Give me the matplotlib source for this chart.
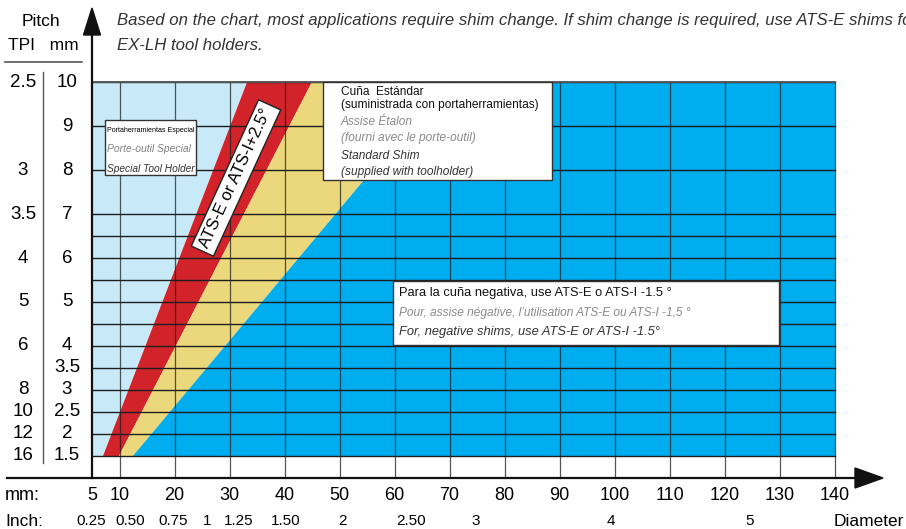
import numpy as np
import matplotlib.pyplot as plt
from matplotlib.patches import Polygon, Rectangle

# ---- data ----
pitch_mm = [10, 9, 8, 7, 6, 5, 4, 3.5, 3, 2.5, 2, 1.5]
pitch_tpi = ['2.5', '3', '3.5', '4', '5', '6', '8', '10', '12', '16']
tpi_at_mm = [10, 8, 7, 6, 5, 4, 3, 2.5, 2, 1.5]
grid_pitch = [1.5, 2, 2.5, 3, 3.5, 4, 4.5, 5, 5.5, 6, 6.5, 7, 8, 9, 10]

diam_mm = [5, 10, 20, 30, 40, 50, 60, 70, 80, 90, 100, 110, 120, 130, 140]
inch_labels = ['0.25', '0.50', '0.75', '1', '1.25', '1.50', '2', '2.50', '3', '4', '5']
inch_at_mm = [4.8, 11.9, 19.7, 25.9, 31.7, 40.3, 50.6, 63.0, 74.8, 99.4, 124.6]

# band borders: diameter (mm) at pitch 1.5 and at pitch 10
band_pitch = [1.5, 10]
special_edge = [7.0, 33.2]     # special tool holder | ATS +2.5
shim_edge = [9.9, 45.0]        # ATS +2.5 | standard shim
standard_edge = [12.5, 69.4]   # standard shim | negative shims
diam_max = 140

c_light = '#c8eaf8'
c_red = '#d2232a'
c_yellow = '#ecd87c'
c_blue = '#00adee'
c_grid = '#1e1e1e'

FONT = ['Liberation Sans', 'DejaVu Sans']

W, H = 906, 529
fig = plt.figure(figsize=(W / 100, H / 100), dpi=100)
ax = fig.add_axes([0, 0, 1, 1])
# 5.5 px per mm of diameter, 44 px per mm of pitch
ax.set_xlim(5 - 92 / 5.5, 5 + (W - 92) / 5.5)
ax.set_ylim(10 - (H - 82) / 44, 10 + 82 / 44)
ax.axis('off')


def fp(x, y):
    # pixel position (from top-left) -> figure fraction
    return x / W, 1 - y / H


x0 = diam_mm[0]
p0, p1 = band_pitch
regions = [
    ([x0, special_edge[0], special_edge[1], x0], c_light),
    ([special_edge[0], shim_edge[0], shim_edge[1], special_edge[1]], c_red),
    ([shim_edge[0], standard_edge[0], standard_edge[1], shim_edge[1]], c_yellow),
    ([standard_edge[0], diam_max, diam_max, standard_edge[1]], c_blue),
]
for xs, col in regions:
    ax.add_patch(Polygon(list(zip(xs, [p0, p0, p1, p1])), closed=True,
                         facecolor=col, edgecolor='none', zorder=1))

# grid
for g in grid_pitch:
    ax.plot([x0, diam_max], [g, g], color=c_grid, lw=1.0, zorder=2)
for d in diam_mm[1:]:
    ax.plot([d, d], [1.0, p1], color=c_grid, lw=0.9, alpha=0.75, zorder=2)
ax.plot([x0, diam_max], [p1, p1], color='#555555', lw=1.3, zorder=2)

# axes with arrow heads
ax.plot([5 - 85 / 5.5, 5 + 770 / 5.5], [1.0, 1.0], color='#111111', lw=1.6, zorder=4)
ax.add_patch(Polygon([(5 + 763 / 5.5, 1.0 + 10 / 44), (5 + 791 / 5.5, 1.0),
                      (5 + 763 / 5.5, 1.0 - 10 / 44)], closed=True,
                     color='#111111', zorder=4))
ax.plot([x0, x0], [1.0, 10 + 50 / 44], color='#111111', lw=1.6, zorder=4)
ax.add_patch(Polygon([(x0 - 8.5 / 5.5, 10 + 47 / 44), (x0, 10 + 74 / 44),
                      (x0 + 8.5 / 5.5, 10 + 47 / 44)], closed=True,
                     color='#111111', zorder=4))

# left pitch scale
fig.text(*fp(41, 21), 'Pitch', fontsize=12.5, family=FONT, ha='center', va='center')
fig.text(*fp(43, 45), 'TPI   mm', fontsize=12.5, family=FONT, ha='center', va='center')
fig.add_artist(plt.Line2D([5 / W, 82 / W], [1 - 62 / H, 1 - 62 / H],
                          color='#555555', lw=1.2))
fig.add_artist(plt.Line2D([43 / W, 43 / W], [1 - 72 / H, 1 - 463 / H],
                          color='#555555', lw=1.0))
for v in pitch_mm:
    ax.text(5 - 25 / 5.5, v, '%g' % v, fontsize=13.5, family=FONT, ha='center', va='center')
for lab, v in zip(pitch_tpi, tpi_at_mm):
    ax.text(5 - 69 / 5.5, v, lab, fontsize=13.5, family=FONT, ha='center', va='center')

# bottom scales
fig.text(*fp(5, 495), 'mm:', fontsize=13, family=FONT, ha='left', va='center')
for d in diam_mm:
    ax.text(d, 1.0 - 17 / 44, str(d), fontsize=13, family=FONT, ha='center', va='center')
fig.text(*fp(5, 521), 'Inch:', fontsize=12.5, family=FONT, ha='left', va='center')
for lab, d in zip(inch_labels, inch_at_mm):
    ax.text(d, 1.0 - 43 / 44, lab, fontsize=11, family=FONT, ha='center', va='center')
fig.text(*fp(834, 521), 'Diameter', fontsize=12.5, family=FONT, ha='left', va='center')

# top notes
fig.text(*fp(117, 20), 'Based on the chart, most applications require shim change. '
         'If shim change is required, use ATS-E shims for', fontsize=12.1,
         family=FONT, style='italic', color='#333333', ha='left', va='center')
fig.text(*fp(117, 45), 'EX-LH tool holders.', fontsize=12.1, family=FONT,
         style='italic', color='#333333', ha='left', va='center')


def box(x1, y1, x2, y2):
    fig.add_artist(Rectangle((x1 / W, 1 - y2 / H), (x2 - x1) / W, (y2 - y1) / H,
                             facecolor='white', edgecolor='#333333', lw=1.0, zorder=5))


# special tool holder box
box(105, 120, 196, 175)
fig.text(*fp(107, 130), 'Portaherramientas Especial', fontsize=5.1, family=FONT,
         ha='left', va='center', zorder=6)
fig.text(*fp(107, 149), 'Porte-outil Special', fontsize=7.5, family=FONT,
         style='italic', color='#808080', ha='left', va='center', zorder=6)
fig.text(*fp(107, 169), 'Special Tool Holder', fontsize=7.3, family=FONT,
         style='italic', color='#333333', ha='left', va='center', zorder=6)

# standard shim box
box(323, 82, 552, 180)
std_lines = [('Cuña  Estándar', 'normal', '#111111', 92),
             ('(suministrada con portaherramientas)', 'normal', '#111111', 105),
             ('Assise Étalon', 'italic', '#8a8a8a', 122),
             ('(fourni avec le porte-outil)', 'italic', '#8a8a8a', 138),
             ('Standard Shim', 'italic', '#333333', 156),
             ('(supplied with toolholder)', 'italic', '#333333', 172)]
for txt, st, col, y in std_lines:
    fig.text(*fp(341, y), txt, fontsize=8.6, family=FONT, style=st, color=col,
             ha='left', va='center', zorder=6)

# negative shim box
box(393, 281, 779, 345)
fig.text(*fp(399, 293), 'Para la cuña negativa, use ATS-E o ATS-I -1.5 °', fontsize=9.3,
         family=FONT, color='#111111', ha='left', va='center', zorder=6)
fig.text(*fp(399, 313), 'Pour, assise négative, l’utilisation ATS-E ou ATS-I -1,5 °',
         fontsize=8.6, family=FONT, style='italic', color='#8a8a8a',
         ha='left', va='center', zorder=6)
fig.text(*fp(399, 332), 'For, negative shims, use ATS-E or ATS-I -1.5°', fontsize=9.3,
         family=FONT, style='italic', color='#333333', ha='left', va='center', zorder=6)

# rotated label in the red band
ax.text(5 + 144 / 5.5, 10 - 96 / 44, 'ATS-E or ATS-I+2.5°', fontsize=12, family=FONT,
        rotation=65.3, rotation_mode='anchor', ha='center', va='center', zorder=6,
        bbox=dict(boxstyle='square,pad=0.28', facecolor='white', edgecolor='#222222', lw=1.0))

fig.savefig('out.png', dpi=100)
